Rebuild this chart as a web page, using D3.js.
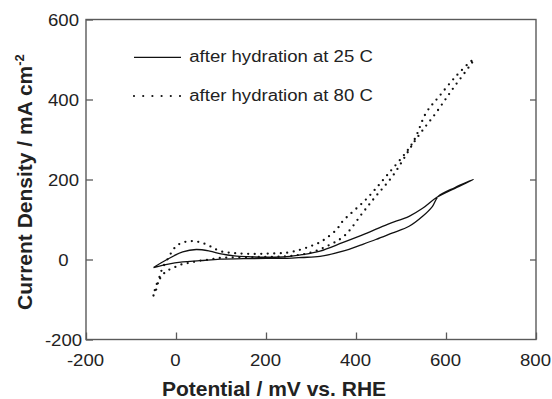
<!DOCTYPE html>
<html>
<head>
<meta charset="utf-8">
<script src="https://cdn.jsdelivr.net/npm/d3@7"></script>
<style>
  body { margin: 0; background: #fff; }
  svg text { font-family: "Liberation Sans", Arial, Helvetica, sans-serif; fill: #222; }
</style>
</head>
<body>
<svg id="chart"></svg>
<script>
// ---- data (potential in mV vs RHE, current density in mA cm-2) ----
const xTicks = [-200, 0, 200, 400, 600, 800];
const yTicks = [-200, 0, 200, 400, 600];
const seriesLabels = ['after hydration at 25 C', 'after hydration at 80 C'];

// 25 C: anodic sweep then return sweep (closed loop)
const v25 = [-50, -20, 15, 45, 75, 100, 130, 160, 200, 246, 280, 320, 370, 420, 470, 518, 548, 579, 620, 661,
             620, 583, 570, 548, 518, 480, 444, 410, 375, 320, 280, 246, 200, 150, 98, 53, 15, -20, -50];
const j25 = [-20, 0, 19, 25, 21, 14, 9, 7, 6, 7, 12, 21, 42, 64, 88, 108, 128, 155, 178, 200,
             180, 158, 133, 108, 83, 66, 50, 36, 22, 8, 5, 3, 3, 2, 1, -3, -6, -12, -20];

// 80 C
const v80 = [-50, -44, -39, -34, -28, -17, -6, 5, 20, 38, 57, 76, 98, 130, 172, 210, 246, 275, 298, 318, 335, 357, 370, 422, 467, 526, 556, 585, 622, 656, 662,
             652, 614, 578, 533, 481, 444, 415, 375, 342, 298, 246, 172, 98, 76, 53, 31, 13, -6, -21, -32, -43, -50];
const j80 = [-90, -75, -54, -33, -17, 4, 25, 37, 44, 46, 42, 33, 21, 16, 14, 15, 17, 24, 33, 42, 54, 75, 95, 150, 208, 292, 367, 408, 458, 496, 500,
             483, 425, 367, 300, 208, 158, 117, 60, 37, 17, 8, 6, 4, 0, -3, -8, -12, -21, -29, -42, -62, -90];

// ---- layout ----
const W = 552, H = 399;
const margin = { top: 19.5, right: 16, bottom: 59.5, left: 86 };
const width = W - margin.left - margin.right;
const height = H - margin.top - margin.bottom;
const stretch = 1.16; // tick/legend text in the figure is a bit wide

const svg = d3.select('#chart').attr('width', W).attr('height', H);
const chart = svg.append('g').attr('transform', `translate(${margin.left},${margin.top})`);

const x = d3.scaleLinear().domain([-200, 800]).range([0, width]);
const y = d3.scaleLinear().domain([-200, 600]).range([height, 0]);

const frameColor = '#5a5a5a';
const plainNum = d => `${d}`; // keep the ascii hyphen like the figure

// bottom axis, ticks pointing in
const xAxis = chart.append('g')
    .attr('transform', `translate(0,${height})`)
    .call(d3.axisBottom(x).tickValues(xTicks).tickSize(-7).tickSizeOuter(0).tickFormat(plainNum));
xAxis.select('.domain').remove();
xAxis.selectAll('line').attr('stroke', frameColor).attr('stroke-width', 1.3);
xAxis.selectAll('text')
    .attr('y', 0).attr('dy', null)
    .attr('transform', `translate(-1,26.5) scale(${stretch},1)`)
    .style('font-size', '16px');

// left axis
const yAxis = chart.append('g')
    .call(d3.axisLeft(y).tickValues(yTicks).tickSize(-7).tickSizeOuter(0).tickFormat(plainNum));
yAxis.select('.domain').remove();
yAxis.selectAll('line').attr('stroke', frameColor).attr('stroke-width', 1.3);
yAxis.selectAll('text')
    .attr('x', 0).attr('dy', null)
    .attr('text-anchor', 'middle')
    .attr('transform', `translate(-22.5,5.7) scale(${stretch},1)`)
    .style('font-size', '16px');

// right axis, ticks only
const rAxis = chart.append('g')
    .attr('transform', `translate(${width},0)`)
    .call(d3.axisRight(y).tickValues([0, 200, 400]).tickSize(-6).tickSizeOuter(0).tickFormat(''));
rAxis.select('.domain').remove();
rAxis.selectAll('line').attr('stroke', frameColor).attr('stroke-width', 1.3);

// frame
chart.append('rect')
    .attr('width', width).attr('height', height)
    .attr('fill', 'none')
    .attr('stroke', frameColor)
    .attr('stroke-width', 1.4);

// ---- curves ----
const line = d3.line()
    .x(d => x(d[0]))
    .y(d => y(d[1]))
    .curve(d3.curveCatmullRom.alpha(0.5));

chart.append('path')
    .datum(d3.zip(v25, j25))
    .attr('d', line)
    .attr('fill', 'none')
    .attr('stroke', '#111')
    .attr('stroke-width', 1.3);

chart.append('path')
    .datum(d3.zip(v80, j80))
    .attr('d', line)
    .attr('fill', 'none')
    .attr('stroke', '#111')
    .attr('stroke-width', 2.3)
    .attr('stroke-linecap', 'round')
    .attr('stroke-dasharray', '0,6.5');

// ---- legend ----
const legend = svg.append('g');
const legendRows = [
    { label: seriesLabels[0], y: 57.3, dash: null, w: 1.3 },
    { label: seriesLabels[1], y: 96, dash: '0,9.2', w: 2.2 }
];
legendRows.forEach(r => {
    legend.append('line')
        .attr('x1', 134).attr('x2', 181)
        .attr('y1', r.y).attr('y2', r.y)
        .attr('stroke', '#111')
        .attr('stroke-width', r.w)
        .attr('stroke-linecap', r.dash ? 'round' : 'butt')
        .attr('stroke-dasharray', r.dash);
    legend.append('text')
        .attr('transform', `translate(189.3,${r.y + 4.5}) scale(${stretch},1)`)
        .style('font-size', '16px')
        .text(r.label);
});

// ---- axis titles ----
svg.append('text')
    .attr('x', 162).attr('y', 396)
    .style('font-size', '21px')
    .style('font-weight', 'bold')
    .text('Potential / mV vs. RHE');

const yTitle = svg.append('text')
    .attr('transform', 'translate(31.7,310) rotate(-90)')
    .style('font-size', '21px')
    .style('font-weight', 'bold');
yTitle.append('tspan').text('Current Density / mA cm');
yTitle.append('tspan')
    .attr('dy', -8)
    .style('font-size', '13px')
    .text('-2');
</script>
</body>
</html>
